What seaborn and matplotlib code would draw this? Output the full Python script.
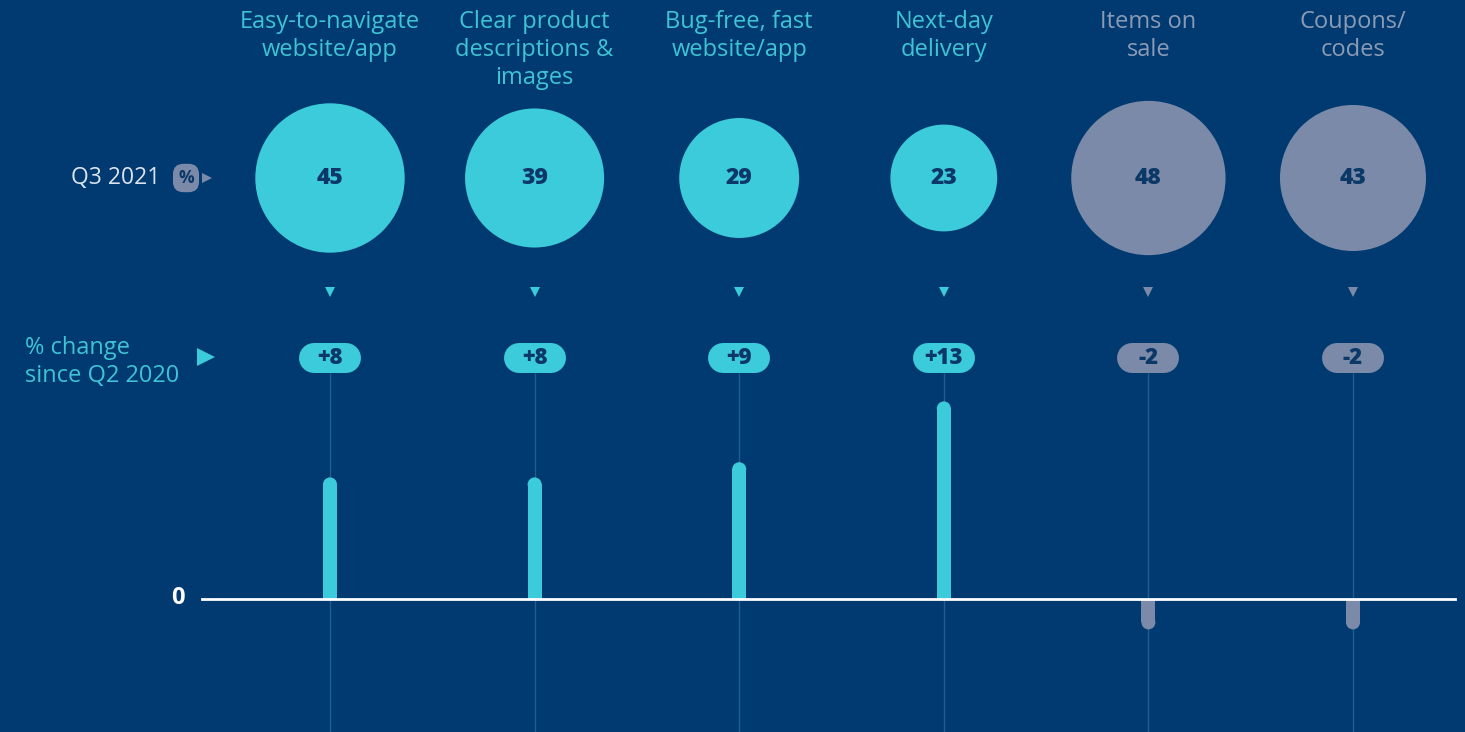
import numpy as np
import pandas as pd
import matplotlib.pyplot as plt
import seaborn as sns

# data
categories = ["Easy-to-navigate\nwebsite/app", "Clear product\ndescriptions &\nimages",
              "Bug-free, fast\nwebsite/app", "Next-day\ndelivery",
              "Items on\nsale", "Coupons/\ncodes"]
q3_2021 = [45, 39, 29, 23, 48, 43]
change_since_q2_2020 = [8, 8, 9, 13, -2, -2]
is_experience = [True, True, True, True, False, False]

BG = "#003a70"
CYAN = "#3ccbdb"
GREY = "#7a8aa8"
CYAN_TXT = "#3fc3d6"
GREY_TXT = "#8b9bb6"
NAVY = "#0c3868"
GUIDE = "#1f5e90"

# layout in pixels
W, H = 1465, 732
X0_PX, STEP_PX = 330, 204.6
ZERO_PX, PX_PER_UNIT = 599, 15.2
BUBBLE_PX, ARROW_PX, PILL_PX, LABEL_TOP_PX = 178, 292, 358, 10


def ypx(p):
    return (ZERO_PX - p) / PX_PER_UNIT


def xpx(p):
    return (p - X0_PX) / STEP_PX


plt.rcParams["font.family"] = ["Open Sans", "DejaVu Sans"]

df = pd.DataFrame({
    "pos": np.arange(len(categories)),
    "label": categories,
    "q3": q3_2021,
    "change": change_since_q2_2020,
})
df["colour"] = [CYAN if e else GREY for e in is_experience]
df["txt"] = [CYAN_TXT if e else GREY_TXT for e in is_experience]
cap = 7 / PX_PER_UNIT
df["bar"] = df["change"] - np.sign(df["change"]) * cap

fig = plt.figure(figsize=(W / 100, H / 100), dpi=100, facecolor=BG)
ax = fig.add_axes([0, 0, 1, 1])
ax.set_facecolor(BG)

# thin guide lines
ax.vlines(df["pos"], ypx(H), ypx(PILL_PX + 15), color=GUIDE, lw=1, zorder=1)

# bars with rounded tips
sns.barplot(data=df, x="pos", y="bar", hue="pos", palette=list(df["colour"]),
            width=14 / STEP_PX, legend=False, ax=ax, zorder=2, saturation=1)
ax.scatter(df["pos"], df["bar"], s=(14 * 0.72) ** 2, c=df["colour"], lw=0, zorder=2)

# zero line
ax.plot([xpx(202), xpx(1455)], [0, 0], color="white", lw=2, zorder=3)
ax.text(xpx(178), ypx(ZERO_PX - 1), "0", color="white", fontsize=17, fontweight="bold",
        ha="center", va="center")

# bubbles, area proportional to value
vmin, vmax = min(q3_2021), max(q3_2021)
k = (2 * 0.72) ** 2 * 124
sns.scatterplot(data=df, x="pos", y=ypx(BUBBLE_PX), size="q3", hue="pos",
                palette=list(df["colour"]), sizes=(k * vmin, k * vmax),
                size_norm=(vmin, vmax), legend=False, linewidth=0, ax=ax, zorder=4)
for _, r in df.iterrows():
    ax.text(r["pos"], ypx(BUBBLE_PX), f"{r['q3']}", color=NAVY, fontsize=16.5,
            fontweight="heavy", ha="center", va="center", zorder=5)
    # small arrow under bubble
    ax.plot(r["pos"], ypx(ARROW_PX), marker="v", ms=7, color=r["colour"], mew=0)
    # change pill
    d = 16 / STEP_PX
    ax.plot([r["pos"] - d, r["pos"] + d], [ypx(PILL_PX)] * 2, color=r["colour"],
            lw=30 * 0.72, solid_capstyle="round", zorder=4)
    ax.text(r["pos"], ypx(PILL_PX), f"{r['change']:+d}", color=NAVY, fontsize=16,
            fontweight="heavy", ha="center", va="center", zorder=5)
    # category header
    ax.text(r["pos"], ypx(LABEL_TOP_PX), r["label"], color=r["txt"], fontsize=17,
            ha="center", va="top", linespacing=1.22)

# left row labels
ax.text(xpx(160), ypx(BUBBLE_PX), "Q3 2021", color="#dbe3ee", fontsize=16.5,
        ha="right", va="center")
ax.text(xpx(186), ypx(BUBBLE_PX), "%", color=NAVY, fontsize=12.5, fontweight="bold",
        ha="center", va="center",
        bbox=dict(boxstyle="round,pad=0.3,rounding_size=0.6", fc=GREY, ec="none"))
ax.plot(xpx(207), ypx(BUBBLE_PX), marker=">", ms=7, color=GREY, mew=0)
ax.text(xpx(25), ypx(PILL_PX + 4), "% change\nsince Q2 2020", color=CYAN_TXT, fontsize=17,
        ha="left", va="center", linespacing=1.22)
ax.plot(xpx(206), ypx(PILL_PX - 1), marker=">", ms=13, color=CYAN, mew=0)

ax.set_xlim(xpx(0), xpx(W))
ax.set_ylim(ypx(H), ypx(0))
ax.axis("off")

fig.savefig("out.png", dpi=100, facecolor=BG)
